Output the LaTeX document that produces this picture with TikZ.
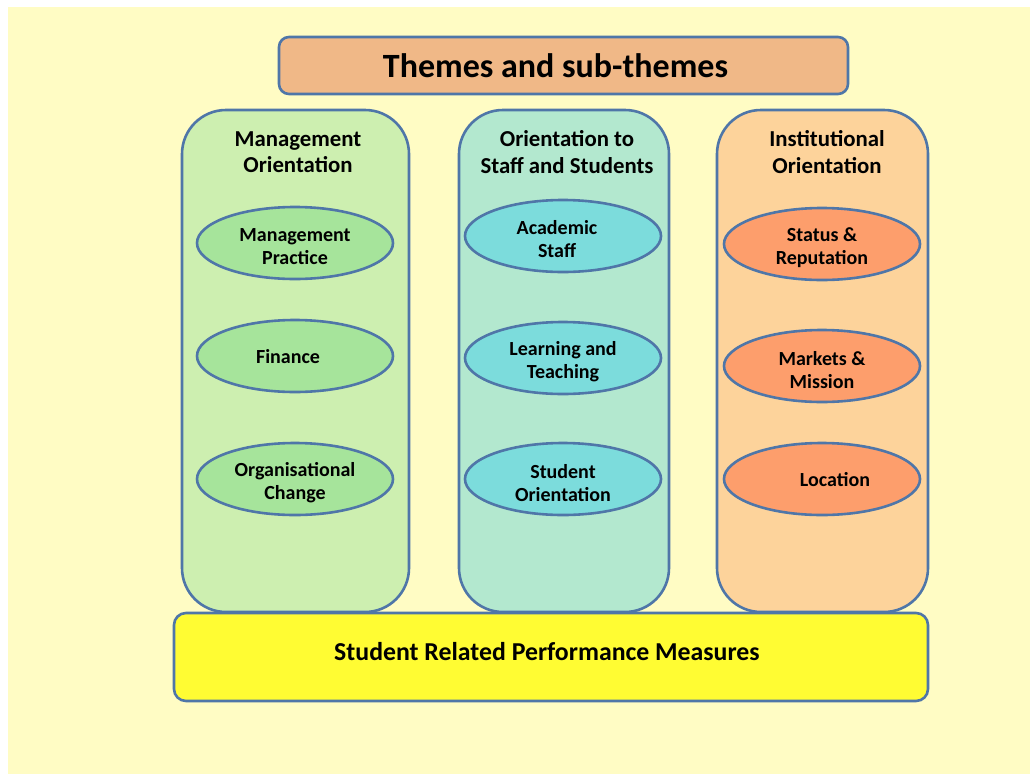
\documentclass[tikz,border=0pt]{standalone}
\usepackage{fontspec}
\setmainfont{Carlito}
\usepackage{tikz}
\usetikzlibrary{positioning,shapes.geometric}

\definecolor{edge}{HTML}{4F76A8}
\definecolor{paper}{HTML}{FFFCC4}
\definecolor{titlefill}{HTML}{F0B887}
\definecolor{mgmtfill}{HTML}{CDEFB0}
\definecolor{stafffill}{HTML}{B3E8CF}
\definecolor{instfill}{HTML}{FDD39B}
\definecolor{mgmtoval}{HTML}{A6E49B}
\definecolor{staffoval}{HTML}{7CDCDC}
\definecolor{instoval}{HTML}{FD9E6C}
\definecolor{basefill}{HTML}{FFFC33}

\begin{document}
\begin{tikzpicture}[x=1pt,y=-1pt,
  column/.style={draw=edge,line width=2.6pt,rounded corners=44pt,minimum width=#1,minimum height=502pt,inner sep=0pt},
  theme/.style={font=\bfseries\fontsize{22.8}{26.5}\selectfont,align=center},
  subtheme/.style={draw=edge,line width=2.6pt,ellipse,minimum width=196pt,minimum height=72pt,inner sep=0pt},
  subtext/.style={font=\bfseries\fontsize{20}{23}\selectfont,align=center,yshift=-4pt}]
\useasboundingbox (0,0) rectangle (1030,774);
\fill[paper] (8,7) rectangle (1030,774);

\node[draw=edge,line width=2.6pt,rounded corners=10pt,fill=titlefill,minimum width=569pt,minimum height=57pt,
  font=\bfseries\fontsize{34}{40}\selectfont] (title) at (563.5,65.5) {Themes and sub-themes\hspace*{16pt}};

% the three columns
\node[column=227pt,fill=mgmtfill] (mgmt) at (295.5,361) {};
\node[column=210pt,fill=stafffill] (staff) at (564,361) {};
\node[column=211pt,fill=instfill] (inst) at (822.5,361) {};

\node[theme] (mgmthead) at (298,152) {Management\\Orientation};
\node[theme] (staffhead) at (567,152) {Orientation to\\Staff and Students};
\node[theme] (insthead) at (827,152) {Institutional\\Orientation};

% sub-themes
\node[subtheme,fill=mgmtoval,label={[subtext]center:Management\\Practice}] (practice) at (295,243) {};
\node[subtheme,fill=mgmtoval,label={[subtext,xshift=-7pt,yshift=3pt]center:Finance}] (finance) at (295,356) {};
\node[subtheme,fill=mgmtoval,label={[subtext]center:Organisational\\Change}] (change) at (295,479) {};

\node[subtheme,fill=staffoval,label={[subtext,xshift=-6pt,yshift=1pt]center:Academic\\Staff}] (academic) at (563,236) {};
\node[subtheme,fill=staffoval,label={[subtext]center:Learning and\\Teaching}] (learning) at (563,358) {};
\node[subtheme,fill=staffoval,label={[subtext]center:Student\\Orientation}] (orient) at (563,479) {};

\node[subtheme,fill=instoval,label={[subtext]center:Status \&\\Reputation}] (status) at (822,244) {};
\node[subtheme,fill=instoval,label={[subtext]center:Markets \&\\Mission}] (markets) at (822,366) {};
\node[subtheme,fill=instoval,label={[subtext,xshift=13pt,yshift=3pt]center:Location}] (location) at (822,479) {};

% base of the diagram
\node[draw=edge,line width=2.6pt,rounded corners=12pt,fill=basefill,minimum width=754pt,minimum height=88pt] (measures) at (551,657) {};
\node[font=\bfseries\fontsize{25.8}{30}\selectfont] (measurestext) at (547,652) {Student Related Performance Measures};
\end{tikzpicture}
\end{document}
